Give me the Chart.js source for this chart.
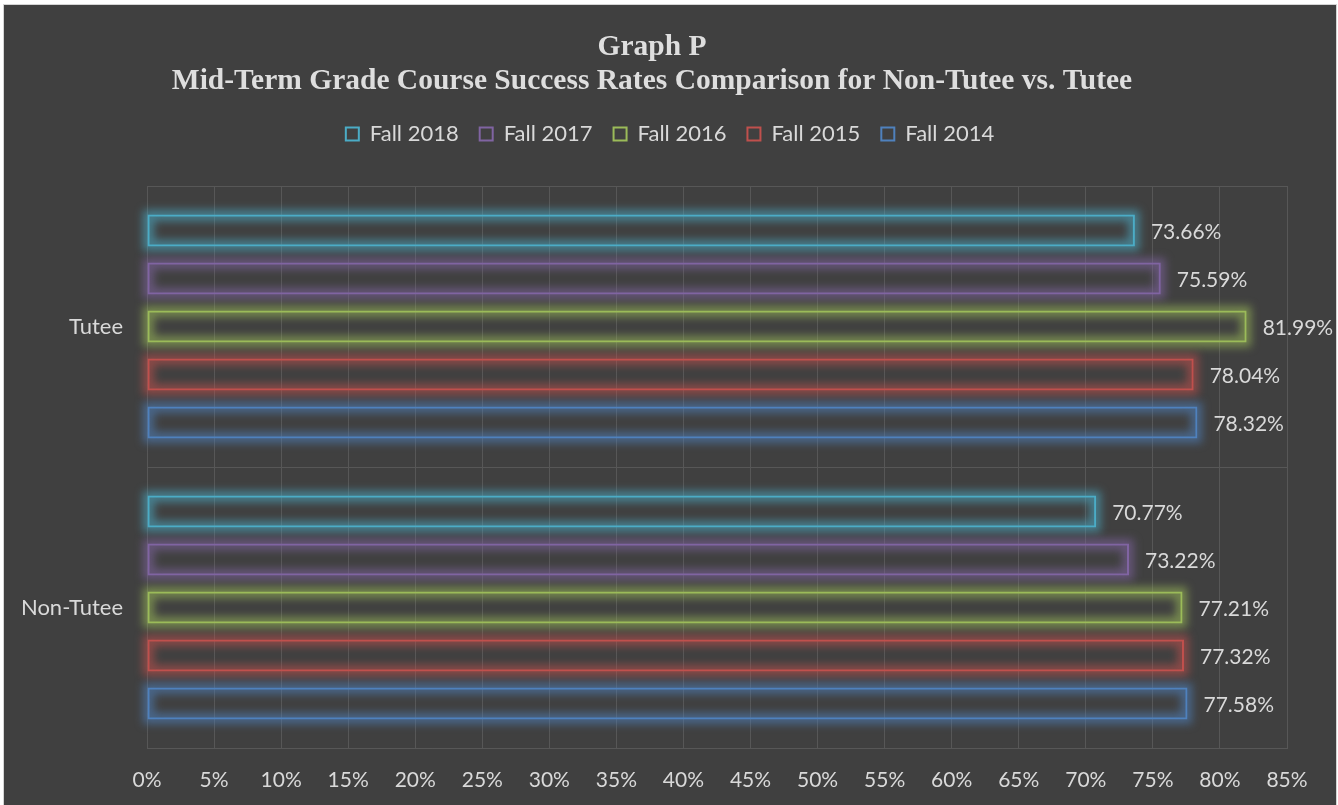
<!DOCTYPE html>
<html>
<head>
<meta charset="utf-8">
<script src="https://cdn.jsdelivr.net/npm/chart.js@4/dist/chart.umd.min.js"></script>
<style>
  html, body { margin: 0; padding: 0; background: #ffffff; }
  #frame { position: absolute; left: 3px; top: 4px; width: 1332px; height: 800px; border: 1px solid #d4d4d4; background: #404040; }
  #wrap { position: relative; width: 1332px; height: 800px; }
</style>
</head>
<body>
<div id="frame"><div id="wrap"><canvas id="c"></canvas></div></div>
<script>
const titleLines = ['Graph P', 'Mid-Term Grade Course Success Rates Comparison for Non-Tutee vs. Tutee'];
const categories = ['Tutee', 'Non-Tutee'];
const seriesNames = ['Fall 2018', 'Fall 2017', 'Fall 2016', 'Fall 2015', 'Fall 2014'];
const fall2018 = [73.66, 70.77];
const fall2017 = [75.59, 73.22];
const fall2016 = [81.99, 77.21];
const fall2015 = [78.04, 77.32];
const fall2014 = [78.32, 77.58];
const seriesColors = ['#4bacc6', '#8064a2', '#9bbb59', '#c0504d', '#4f81bd'];
const xMax = 85;
const xStep = 5;

const seriesValues = [fall2018, fall2017, fall2016, fall2015, fall2014];
const textColor = '#d9d9d9';
const gridColor = '#575757';
const bodyFont = 'Lato';

function hexA(hex, a) {
  const n = parseInt(hex.slice(1), 16);
  return `rgba(${(n >> 16) & 255},${(n >> 8) & 255},${n & 255},${a})`;
}

const glowPlugin = {
  id: 'glow',
  beforeDatasetsDraw(chart) {
    const ctx = chart.ctx;
    chart.data.datasets.forEach((ds, i) => {
      const meta = chart.getDatasetMeta(i);
      meta.data.forEach(el => {
        const p = el.getProps(['x', 'y', 'base', 'height'], true);
        const left = Math.min(p.x, p.base), w = Math.abs(p.x - p.base);
        const top = p.y - p.height / 2;
        ctx.save();
        ctx.filter = 'blur(4px)';
        ctx.strokeStyle = hexA(ds.borderColor, 0.6);
        ctx.lineWidth = 11;
        ctx.strokeRect(left + 1, top + 1, w - 2, p.height - 2);
        ctx.restore();
      });
    });
  },
  afterDatasetsDraw(chart) {
    const ctx = chart.ctx;
    ctx.save();
    ctx.font = `21px ${bodyFont}`;
    ctx.fillStyle = textColor;
    ctx.textBaseline = 'middle';
    ctx.textAlign = 'left';
    chart.data.datasets.forEach((ds, i) => {
      const meta = chart.getDatasetMeta(i);
      meta.data.forEach((el, j) => {
        ctx.fillText(ds.data[j].toFixed(2) + '%', el.x + 16, el.y + 2);
      });
    });
    ctx.restore();
  },
  afterDraw(chart) {
    const ctx = chart.ctx;
    ctx.save();
    ctx.font = 'bold 29.5px "Liberation Serif"';
    ctx.fillStyle = '#dedede';
    ctx.textAlign = 'center';
    ctx.textBaseline = 'middle';
    ctx.fillText(titleLines[0], 648, 42);
    ctx.fillText(titleLines[1], 648, 76);
    ctx.restore();
  },
  beforeLayout(chart) {
    const lg = chart.legend;
    if (lg && !lg._wrapped) {
      const f = lg.fit;
      lg.fit = function () { f.apply(this, arguments); this.height = 84; };
      lg._wrapped = true;
    }
  }
};

new Chart(document.getElementById('c'), {
  type: 'bar',
  data: {
    labels: categories,
    datasets: seriesNames.map((name, i) => ({
      label: name,
      data: seriesValues[i],
      borderColor: seriesColors[i],
      backgroundColor: 'rgba(0,0,0,0)',
      borderWidth: 2,
      borderSkipped: false,
      categoryPercentage: 0.854,
      barPercentage: 0.667
    }))
  },
  options: {
    indexAxis: 'y',
    responsive: true,
    maintainAspectRatio: false,
    animation: false,
    layout: { padding: { top: 97, right: 0, bottom: 0, left: 0 } },
    plugins: {
      title: { display: false },
      tooltip: { enabled: false },
      legend: {
        display: true,
        position: 'top',
        labels: {
          color: textColor,
          font: { family: bodyFont, size: 22 },
          boxWidth: 13,
          boxHeight: 13,
          padding: 21
        }
      }
    },
    scales: {
      x: {
        min: 0,
        max: xMax,
        ticks: {
          stepSize: xStep,
          color: textColor,
          font: { family: bodyFont, size: 21 },
          padding: 20,
          callback: v => v + '%'
        },
        grid: { color: gridColor, drawTicks: false },
        border: { color: gridColor },
        afterFit: s => { s.height = 57; s.paddingRight = 49; s.paddingLeft = 0; }
      },
      y: {
        ticks: {
          color: textColor,
          font: { family: bodyFont, size: 22 },
          padding: 24
        },
        grid: { color: gridColor, drawTicks: false, offset: true },
        border: { display: false },
        afterFit: s => { s.width = 143; }
      }
    }
  },
  plugins: [glowPlugin]
});
</script>
</body>
</html>
